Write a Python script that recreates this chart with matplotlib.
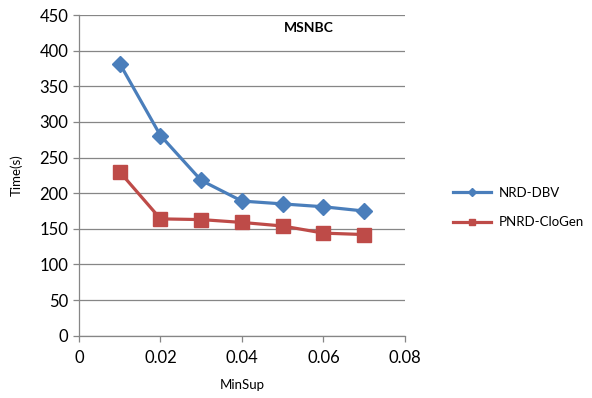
import matplotlib
matplotlib.use("Agg")
import matplotlib.pyplot as plt

plt.rcParams['font.family'] = ['Lato', 'DejaVu Sans']

# MinSup thresholds and runtimes (seconds)
min_sup = [0.01, 0.02, 0.03, 0.04, 0.05, 0.06, 0.07]
nrd_dbv = [382, 281, 218, 189, 185, 181, 175]
pnrd_clogen = [230, 164, 163, 159, 154, 144, 142]

x_ticks = [0, 0.02, 0.04, 0.06, 0.08]
x_tick_labels = ['0', '0.02', '0.04', '0.06', '0.08']
y_ticks = list(range(0, 451, 50))

BLUE = '#4A7EBB'
RED = '#BE4B48'
GRID = '#868686'

fig = plt.figure(figsize=(5.92, 3.98), dpi=100)
ax = fig.add_axes([0.1334, 0.1565, 0.5506, 0.8055])

ax.plot(min_sup, nrd_dbv, color=BLUE, linewidth=2.3, marker='D',
        markersize=8.5, label='NRD-DBV')
ax.plot(min_sup, pnrd_clogen, color=RED, linewidth=2.3, marker='s',
        markersize=9.5, label='PNRD-CloGen')

ax.set_xlim(0, 0.08)
ax.set_ylim(0, 450)
ax.set_xticks(x_ticks)
ax.set_xticklabels(x_tick_labels)
ax.set_yticks(y_ticks)

ax.yaxis.grid(True, color=GRID, linewidth=0.9)
ax.set_axisbelow(True)
for side in ('top', 'right'):
    ax.spines[side].set_visible(False)
for side in ('left', 'bottom'):
    ax.spines[side].set_color(GRID)
    ax.spines[side].set_linewidth(0.9)
ax.tick_params(axis='both', colors=GRID, length=4, width=0.9,
               labelsize=12, labelcolor='black')
ax.tick_params(axis='x', pad=6)

ax.set_xlabel('MinSup', fontsize=9.5, labelpad=10)
ax.set_ylabel('Time(s)', fontsize=9.5, labelpad=12)
ax.text(0.705, 0.98, 'MSNBC', transform=ax.transAxes, ha='center', va='top',
        fontsize=10, fontweight='bold')

leg = fig.legend(loc='upper left', bbox_to_anchor=(0.745, 0.56),
                 frameon=False, fontsize=9.5, markerscale=0.5,
                 handlelength=2.9, handletextpad=0.6, labelspacing=1.3)

fig.savefig('out.png', dpi=100)
